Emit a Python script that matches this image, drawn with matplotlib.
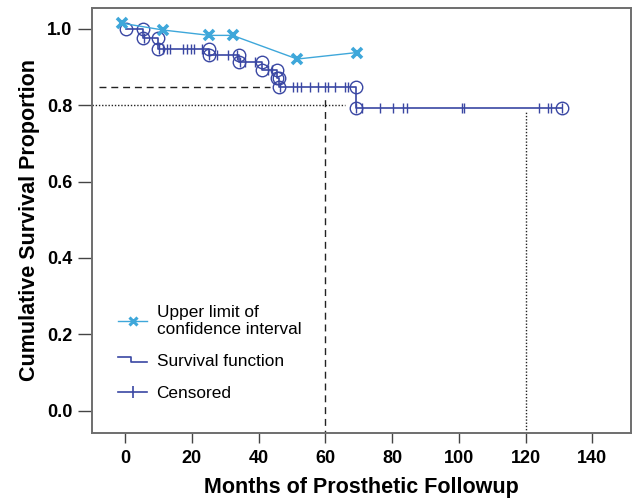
import numpy as np
import matplotlib
matplotlib.use("Agg")
import matplotlib.pyplot as plt
from matplotlib.lines import Line2D
from matplotlib.legend_handler import HandlerBase

plt.rcParams['font.family'] = ['Liberation Sans', 'DejaVu Sans']

# ---- data ----
# Kaplan-Meier step function: start time, event times, survival after each step
start_time = 0.3
event_times = [5.4, 9.9, 25.2, 34.2, 41.0, 45.5, 46.2, 69.2]
survival = [1.0, 0.975, 0.948, 0.932, 0.914, 0.893, 0.871, 0.847, 0.793]
end_time = 131.0

censored_times = [5.6, 10.1, 11.5, 12.5, 13.5, 17.3, 18.5, 19.7, 20.7, 23.0,
                  25.3, 27.5, 30.9, 33.5, 34.4, 35.9, 38.9, 42.9, 43.9,
                  46.3, 50.4, 51.6, 52.6, 55.4, 57.9, 59.9, 60.9, 62.9, 65.9, 66.9,
                  69.3, 70.9, 76.4, 80.4, 83.4, 84.4, 100.9, 101.6, 124.1, 126.8,
                  127.5, 131.0]

ci_times = [-1.0, 11.4, 25.3, 32.2, 51.6, 69.4]
ci_upper = [1.015, 0.997, 0.983, 0.983, 0.921, 0.938]

ref60_value = 0.847
ref120_value = 0.80
xticks = [0, 20, 40, 60, 80, 100, 120, 140]
yticks = [0.0, 0.2, 0.4, 0.6, 0.8, 1.0]

DARK = '#3a47a3'
LIGHT = '#3ea7da'

W, H = 634, 499
fig = plt.figure(figsize=(W / 100, H / 100), dpi=100)
ax = fig.add_axes([92 / W, 1 - 432.5 / H, (631 - 92) / W, (432.5 - 7.5) / H])
ax.set_xlim(-9.9, 151.6)
ax.set_ylim(-0.057, 1.056)

# reference lines
ax.plot([-7.9, 43.4], [ref60_value, ref60_value], ls=(0, (5, 3.5)), color='#222222', lw=1.0)
ax.plot([60, 60], [-0.1, 0.827], ls=(0, (5, 3.5)), color='#222222', lw=1.0)
ax.plot([-9.9, 65.9], [ref120_value, ref120_value], ls=(0, (1, 1.3)), color='#222222', lw=1.0)
ax.plot([120, 120], [-0.1, 0.783], ls=(0, (1, 1.3)), color='#222222', lw=1.0)

# survival step function
xs = [start_time]
ys = [survival[0]]
for t, s_prev, s_new in zip(event_times, survival[:-1], survival[1:]):
    xs += [t, t]
    ys += [s_prev, s_new]
xs.append(end_time)
ys.append(survival[-1])
ax.plot(xs, ys, color=DARK, lw=1.2, zorder=3)

# circles at step corners
cx = [start_time]
cy = [survival[0]]
for t, s_prev, s_new in zip(event_times, survival[:-1], survival[1:]):
    cx += [t, t]
    cy += [s_prev, s_new]
cx.append(end_time)
cy.append(survival[-1])
ax.plot(cx, cy, ls='none', marker='o', ms=9, mfc='none', mec=DARK, mew=1.0, zorder=4)

# censored ticks
all_t = np.array(event_times)
ct = np.array(censored_times)
idx = np.searchsorted(all_t, ct, side='right')
cs = np.array(survival)[idx]
ax.plot(ct, cs, ls='none', marker='|', ms=7, mec=DARK, mew=1.0, zorder=4)

# upper CI
ax.plot(ci_times, ci_upper, color=LIGHT, lw=1.0, marker='x', ms=7.5, mew=2.6, zorder=5)

ax.set_xticks(xticks)
ax.set_xticklabels([str(v) for v in xticks])
ax.set_yticks(yticks)
ax.set_yticklabels([f'{v:.1f}' for v in yticks])
for lab in ax.get_xticklabels() + ax.get_yticklabels():
    lab.set_fontweight('bold')
    lab.set_fontsize(13)
ax.tick_params(axis='both', direction='out', width=1.0, color='#444444')
ax.tick_params(axis='x', length=7.5, pad=5)
ax.tick_params(axis='y', length=10, pad=4)
for sp in ax.spines.values():
    sp.set_color('#6e6e6e')
    sp.set_linewidth(1.4)

ax.set_xlabel('Months of Prosthetic Followup', fontsize=15.5, fontweight='bold', labelpad=7)
ax.set_ylabel('Cumulative Survival Proportion', fontsize=15.5, fontweight='bold', labelpad=5)


class StepHandler(HandlerBase):
    def create_artists(self, legend, orig_handle, xdescent, ydescent, width, height,
                       fontsize, trans):
        x0 = -xdescent
        mid = x0 + width * 0.45
        ytop = height * 0.75 - ydescent
        ybot = height * 0.35 - ydescent
        ln = Line2D([x0, mid, mid, x0 + width], [ytop, ytop, ybot, ybot],
                    color=DARK, lw=1.2, transform=trans)
        return [ln]


h_ci = Line2D([], [], color=LIGHT, lw=1.0, marker='x', ms=6, mew=2.2)
h_surv = Line2D([], [], color=DARK, lw=1.2)
h_cens = Line2D([], [], color=DARK, lw=1.2, marker='|', ms=9, mew=1.2)
leg = ax.legend([h_ci, h_surv, h_cens],
                ['Upper limit of\nconfidence interval', 'Survival function', 'Censored'],
                handler_map={h_surv: StepHandler()},
                loc='upper left', bbox_to_anchor=(0.048, 0.30), frameon=False,
                fontsize=12.4, handlelength=1.7, handletextpad=0.55, labelspacing=0.97,
                borderpad=0, borderaxespad=0)

fig.savefig('out.png', dpi=100)
